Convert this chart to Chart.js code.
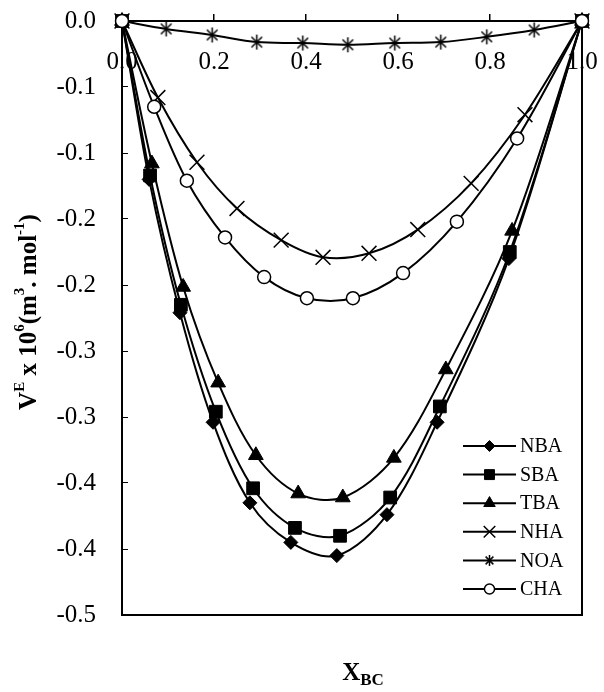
<!DOCTYPE html>
<html>
<head>
<meta charset="utf-8">
<title>Excess molar volume vs X_BC</title>
<script src="https://cdn.jsdelivr.net/npm/chart.js@4/dist/chart.umd.min.js"></script>
<style>
  html, body { margin: 0; padding: 0; background: #ffffff; }
  canvas { display: block; }
</style>
</head>
<body>
<canvas id="chart" width="604" height="692"></canvas>
<script>
// Mole fraction of BC (x) and excess molar volume VE x 10^6 (y) for each system
const seriesNames = ['NBA', 'SBA', 'TBA', 'NHA', 'NOA', 'CHA'];

const xNBA = [0, 0.059, 0.126, 0.198, 0.278, 0.367, 0.467, 0.576, 0.685, 0.841, 1];
const yNBA = [0, -0.120, -0.221, -0.304, -0.365, -0.395, -0.405, -0.374, -0.304, -0.180, 0];

const xSBA = [0, 0.061, 0.128, 0.204, 0.285, 0.376, 0.474, 0.583, 0.691, 0.843, 1];
const ySBA = [0, -0.117, -0.215, -0.296, -0.354, -0.384, -0.390, -0.361, -0.292, -0.175, 0];

const xTBA = [0, 0.065, 0.133, 0.209, 0.291, 0.383, 0.480, 0.591, 0.704, 0.848, 1];
const yTBA = [0, -0.108, -0.2015, -0.274, -0.329, -0.358, -0.361, -0.331, -0.264, -0.159, 0];

const xNHA = [0, 0.078, 0.163, 0.250, 0.346, 0.437, 0.537, 0.643, 0.759, 0.876, 1];
const yNHA = [0, -0.058, -0.107, -0.142, -0.166, -0.179, -0.176, -0.158, -0.123, -0.071, 0];

const xNOA = [0, 0.096, 0.196, 0.293, 0.393, 0.491, 0.593, 0.693, 0.793, 0.896, 1];
const yNOA = [0, -0.006, -0.0106, -0.016, -0.0167, -0.018, -0.0167, -0.016, -0.012, -0.0068, 0];

const xCHA = [0, 0.070, 0.141, 0.224, 0.309, 0.402, 0.502, 0.611, 0.728, 0.859, 1];
const yCHA = [0, -0.065, -0.121, -0.164, -0.194, -0.210, -0.210, -0.191, -0.152, -0.089, 0];

// Axis tick labels (one decimal, as printed on the axes)
const xTickLabels = ['0.0', '0.2', '0.4', '0.6', '0.8', '1.0'];
const yTickLabels = ['0.0', '-0.1', '-0.1', '-0.2', '-0.2', '-0.3', '-0.3', '-0.4', '-0.4', '-0.5'];

const SERIF = '"Liberation Serif", "Times New Roman", serif';

// Asterisk marker: vertical stroke plus an X
function asteriskMarker(size, lw) {
  const c = document.createElement('canvas');
  c.width = c.height = size;
  const g = c.getContext('2d');
  const m = size / 2, r = size / 2 - 1;
  const d = r * Math.SQRT1_2;
  g.strokeStyle = '#000';
  g.lineWidth = lw;
  g.beginPath();
  g.moveTo(m, m - r); g.lineTo(m, m + r);
  g.moveTo(m - d, m - d); g.lineTo(m + d, m + d);
  g.moveTo(m + d, m - d); g.lineTo(m - d, m + d);
  g.stroke();
  return c;
}

const markerStyles = {
  NBA: { pointStyle: 'rectRot',  pointRadius: 7,    pointBackgroundColor: '#000', pointBorderWidth: 1 },
  SBA: { pointStyle: 'rect',     pointRadius: 9,    pointBackgroundColor: '#000', pointBorderWidth: 1 },
  TBA: { pointStyle: 'triangle', pointRadius: 8.5,  pointBackgroundColor: '#000', pointBorderWidth: 1 },
  NHA: { pointStyle: 'crossRot', pointRadius: 10.5, pointBackgroundColor: '#000', pointBorderWidth: 1.5 },
  NOA: { pointStyle: asteriskMarker(17, 1.5), pointRadius: 8, pointBackgroundColor: '#000', pointBorderWidth: 1.5 },
  CHA: { pointStyle: 'circle',   pointRadius: 6.5,  pointBackgroundColor: '#fff', pointBorderWidth: 1.5 }
};
const legendAsterisk = asteriskMarker(13, 1.5);

const seriesX = { NBA: xNBA, SBA: xSBA, TBA: xTBA, NHA: xNHA, NOA: xNOA, CHA: xCHA };
const seriesY = { NBA: yNBA, SBA: ySBA, TBA: yTBA, NHA: yNHA, NOA: yNOA, CHA: yCHA };

const datasets = seriesNames.map((name, i) => Object.assign({
  label: name,
  data: seriesX[name].map((x, k) => ({ x: x, y: seriesY[name][k] })),
  borderColor: '#000',
  borderWidth: 2,
  pointBorderColor: '#000',
  pointHoverRadius: 0,
  tension: 0.33,
  fill: false,
  clip: false,
  order: seriesNames.length - 1 - i
}, markerStyles[name]));

// Fallback marker renderer in case helpers are not exposed
function fallbackDrawPoint(ctx, o, x, y) {
  const r = o.radius;
  if (o.pointStyle instanceof HTMLCanvasElement) {
    ctx.drawImage(o.pointStyle, x - o.pointStyle.width / 2, y - o.pointStyle.height / 2);
    return;
  }
  ctx.beginPath();
  switch (o.pointStyle) {
    case 'rectRot':
      ctx.moveTo(x - r, y); ctx.lineTo(x, y - r); ctx.lineTo(x + r, y); ctx.lineTo(x, y + r); ctx.closePath(); break;
    case 'rect': {
      const s = r * Math.SQRT1_2; ctx.rect(x - s, y - s, 2 * s, 2 * s); break;
    }
    case 'triangle': {
      let a = 0;
      ctx.moveTo(x + Math.sin(a) * r, y - Math.cos(a) * r);
      a += 2 * Math.PI / 3; ctx.lineTo(x + Math.sin(a) * r, y - Math.cos(a) * r);
      a += 2 * Math.PI / 3; ctx.lineTo(x + Math.sin(a) * r, y - Math.cos(a) * r);
      ctx.closePath(); break;
    }
    case 'crossRot': {
      const d = r * Math.SQRT1_2;
      ctx.moveTo(x - d, y - d); ctx.lineTo(x + d, y + d);
      ctx.moveTo(x + d, y - d); ctx.lineTo(x - d, y + d);
      ctx.stroke(); return;
    }
    default:
      ctx.arc(x, y, r, 0, Math.PI * 2); ctx.closePath();
  }
  ctx.fill();
  if (o.borderWidth > 0) ctx.stroke();
}
const drawPoint = (Chart.helpers && Chart.helpers.drawPoint) ? Chart.helpers.drawPoint : fallbackDrawPoint;

// Box around the plotting area (drawn under the series)
const plotFrame = {
  id: 'plotFrame',
  beforeDatasetsDraw(chart) {
    const { ctx, chartArea: a } = chart;
    ctx.save();
    ctx.strokeStyle = '#000';
    ctx.lineWidth = 2;
    ctx.strokeRect(a.left, a.top, a.right - a.left, a.bottom - a.top);
    ctx.restore();
  }
};

// Legend in the lower right corner of the plot (markers a little smaller than in the plot)
const seriesLegend = {
  id: 'seriesLegend',
  afterDatasetsDraw(chart) {
    const { ctx, chartArea: a } = chart;
    const x0 = a.right - 119, x1 = a.right - 66, xm = (x0 + x1) / 2, xt = a.right - 62;
    const yTop = a.bottom - 169, step = 28.6;
    ctx.save();
    chart.data.datasets.forEach((ds, i) => {
      const y = yTop + i * step;
      ctx.strokeStyle = '#000';
      ctx.lineWidth = 2;
      ctx.beginPath();
      ctx.moveTo(x0, y); ctx.lineTo(x1, y);
      ctx.stroke();
      ctx.fillStyle = ds.pointBackgroundColor;
      ctx.strokeStyle = '#000';
      ctx.lineWidth = ds.pointBorderWidth;
      const style = (ds.pointStyle instanceof HTMLCanvasElement) ? legendAsterisk : ds.pointStyle;
      drawPoint(ctx, { pointStyle: style, rotation: 0, radius: ds.pointRadius * 0.78, borderWidth: ds.pointBorderWidth }, xm, y);
      ctx.fillStyle = '#000';
      ctx.font = '20px ' + SERIF;
      ctx.textAlign = 'left';
      ctx.textBaseline = 'middle';
      ctx.fillText(ds.label, xt, y + 1);
    });
    ctx.restore();
  }
};

// Axis titles with superscripts / subscripts
function drawRichText(ctx, parts, cx, baseY, mainFont, smallFont) {
  ctx.textAlign = 'left';
  ctx.textBaseline = 'alphabetic';
  const widths = parts.map(p => { ctx.font = p.shift ? smallFont : mainFont; return ctx.measureText(p.t).width; });
  const total = widths.reduce((s, w) => s + w, 0);
  let x = cx - total / 2;
  parts.forEach((p, i) => {
    ctx.font = p.shift ? smallFont : mainFont;
    ctx.fillText(p.t, x, baseY + (p.shift || 0));
    x += widths[i];
  });
}

const axisTitles = {
  id: 'axisTitles',
  afterDraw(chart) {
    const { ctx, chartArea: a } = chart;
    ctx.save();
    ctx.fillStyle = '#000';
    // vertical title
    ctx.save();
    ctx.translate(28, (a.top + a.bottom) / 2 - 6);
    ctx.rotate(-Math.PI / 2);
    drawRichText(ctx, [
      { t: 'V' }, { t: 'E', shift: -12 }, { t: ' x 10' }, { t: '6', shift: -12 },
      { t: '(m' }, { t: '3', shift: -12 }, { t: '. mol' }, { t: '-1', shift: -12 }, { t: ')' }
    ], 0, 8, 'bold 25px ' + SERIF, 'bold 15px ' + SERIF);
    ctx.restore();
    // horizontal title
    drawRichText(ctx, [{ t: 'X' }, { t: 'BC', shift: 5 }],
      (a.left + a.right) / 2 + 11, 680, 'bold 25px ' + SERIF, 'bold 17px ' + SERIF);
    ctx.restore();
  }
};

// Scales keep a fixed footprint so the plot box sits where the frame is drawn
function noScalePadding(scale) {
  scale.paddingTop = 0;
  scale.paddingBottom = 0;
  scale.paddingLeft = 0;
  scale.paddingRight = 0;
}

new Chart(document.getElementById('chart'), {
  type: 'line',
  data: { datasets: datasets },
  options: {
    responsive: false,
    animation: false,
    events: [],
    layout: { autoPadding: false, padding: { left: 0, top: 0, right: 22, bottom: 77 } },
    plugins: { legend: { display: false }, tooltip: { enabled: false }, title: { display: false } },
    scales: {
      x: {
        type: 'linear',
        position: 'top',
        min: 0,
        max: 1,
        afterFit(scale) { scale.height = 21; noScalePadding(scale); },
        border: { display: false },
        grid: { drawOnChartArea: false, drawTicks: true, tickLength: 7, color: '#000', lineWidth: 1.5 },
        ticks: {
          stepSize: 0.2,
          autoSkip: false,
          maxRotation: 0,
          mirror: true,
          padding: 26,
          color: '#000',
          font: { family: SERIF, size: 25 },
          callback: (v) => xTickLabels[Math.round(v / 0.2)]
        }
      },
      y: {
        type: 'linear',
        position: 'left',
        min: -0.45,
        max: 0,
        afterFit(scale) { scale.width = 122; noScalePadding(scale); },
        border: { display: false },
        grid: { drawOnChartArea: false, drawTicks: true, tickLength: -6, color: '#000', lineWidth: 1 },
        ticks: {
          stepSize: 0.05,
          autoSkip: false,
          padding: 32,
          color: '#000',
          font: { family: SERIF, size: 25 },
          callback: (v) => yTickLabels[Math.round(-v / 0.05)]
        }
      }
    }
  },
  plugins: [plotFrame, seriesLegend, axisTitles]
});
</script>
</body>
</html>
